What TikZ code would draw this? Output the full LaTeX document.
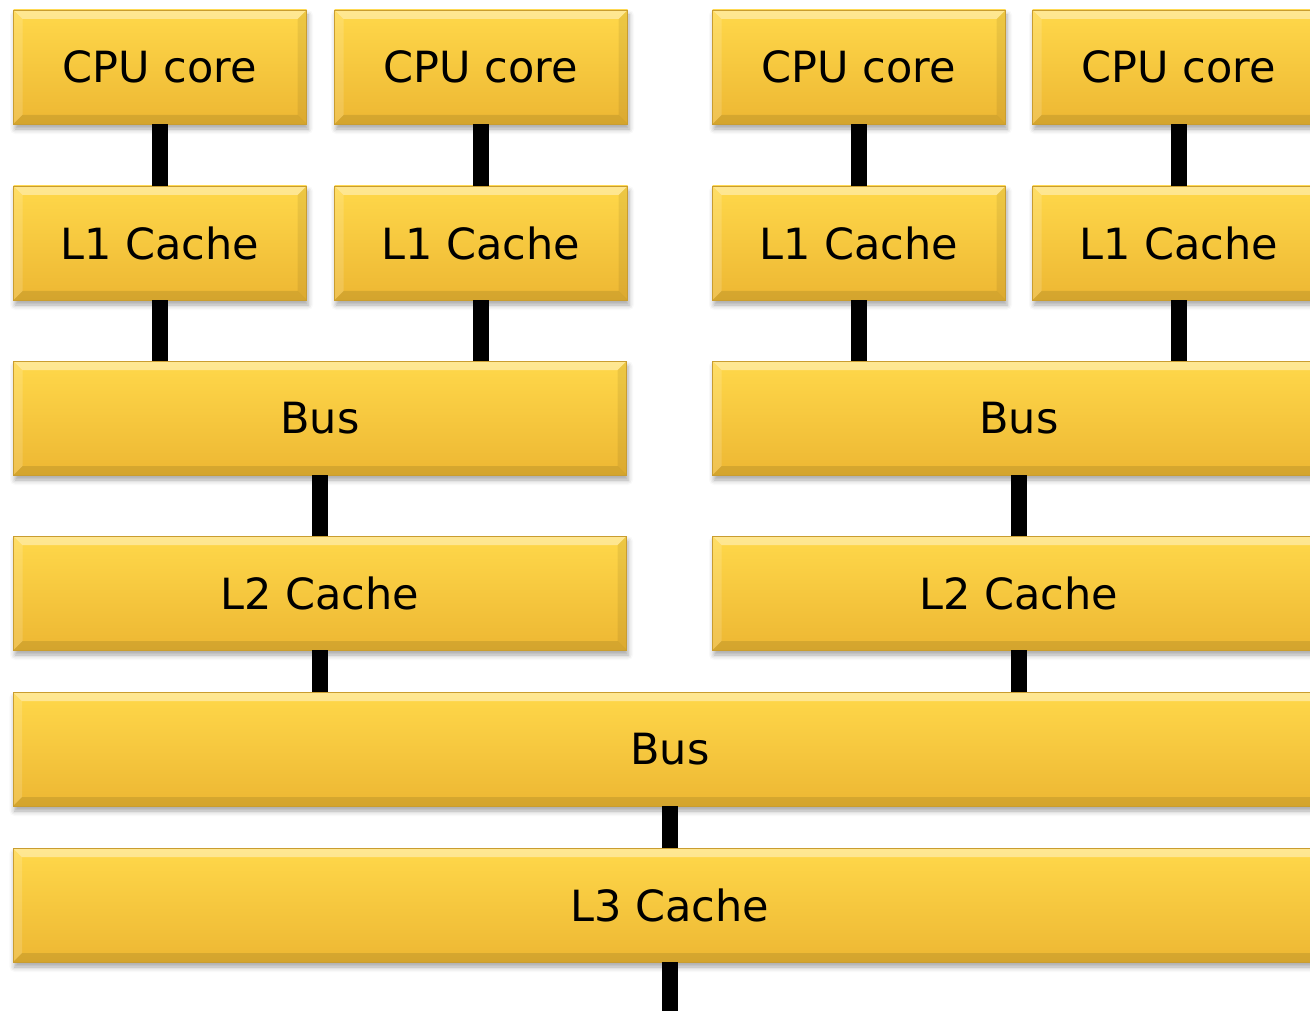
\documentclass[tikz,border=0pt]{standalone}
\usepackage{fontspec}
\setmainfont{DejaVu Sans}
\usetikzlibrary{shadows.blur}
\definecolor{goldtop}{HTML}{FFD84A}
\definecolor{goldbot}{HTML}{EDB733}
\definecolor{goldedge}{HTML}{C99D30}
\tikzset{
  unitbox/.style={draw=goldedge, line width=0.8pt, top color=goldtop, bottom color=goldbot,
    minimum height=114pt, inner sep=0pt, text=black,
    font=\fontsize{43}{50}\selectfont,
    blur shadow={shadow xshift=1.5pt, shadow yshift=-5pt, shadow blur radius=5pt, shadow opacity=35},
    path picture={
      \fill[white, opacity=0.40] (path picture bounding box.north west) -- (path picture bounding box.north east)
        -- ([shift={(-9pt,-9pt)}]path picture bounding box.north east) -- ([shift={(9pt,-9pt)}]path picture bounding box.north west) -- cycle;
      \fill[white, opacity=0.15] (path picture bounding box.north west) -- (path picture bounding box.south west)
        -- ([shift={(9pt,9pt)}]path picture bounding box.south west) -- ([shift={(9pt,-9pt)}]path picture bounding box.north west) -- cycle;
      \fill[black, opacity=0.07] (path picture bounding box.north east) -- (path picture bounding box.south east)
        -- ([shift={(-9pt,9pt)}]path picture bounding box.south east) -- ([shift={(-9pt,-9pt)}]path picture bounding box.north east) -- cycle;
      \fill[black, opacity=0.10] (path picture bounding box.south west) -- (path picture bounding box.south east)
        -- ([shift={(-9pt,9pt)}]path picture bounding box.south east) -- ([shift={(9pt,9pt)}]path picture bounding box.south west) -- cycle;
    }},
  small/.style={unitbox, minimum width=293pt},
  half/.style={unitbox, minimum width=613pt},
  full/.style={unitbox, minimum width=1314pt},
  link/.style={line width=16pt, black},
}
\begin{document}
\begin{tikzpicture}[x=1pt, y=-1pt]
\useasboundingbox (0,0) rectangle (1310,1011);
\clip (0,0) rectangle (1310,1011);
% CPU cores
\node[small] (c1) at (160,67) {CPU core};
\node[small] (c2) at (481,67) {CPU core};
\node[small] (c3) at (859,67) {CPU core};
\node[small] (c4) at (1179,67) {CPU core};
% L1
\node[small] (l1a) at (160,243) {L1 Cache};
\node[small] (l1b) at (481,243) {L1 Cache};
\node[small] (l1c) at (859,243) {L1 Cache};
\node[small] (l1d) at (1179,243) {L1 Cache};
% buses
\node[half] (busa) at (320,418) {Bus};
\node[half] (busb) at (1019,418) {Bus};
% L2
\node[half] (l2a) at (320,593) {L2 Cache};
\node[half] (l2b) at (1019,593) {L2 Cache};
% big bus and L3
\node[full] (bus) at (670,749) {Bus};
\node[full] (l3) at (670,905) {L3 Cache};
\coordinate (out) at (670,1020);
% connectors
\draw[link] (c1.south) -- (l1a.north);
\draw[link] (c2.south) -- (l1b.north);
\draw[link] (c3.south) -- (l1c.north);
\draw[link] (c4.south) -- (l1d.north);
\draw[link] (l1a.south) -- (l1a.south |- busa.north);
\draw[link] (l1b.south) -- (l1b.south |- busa.north);
\draw[link] (l1c.south) -- (l1c.south |- busb.north);
\draw[link] (l1d.south) -- (l1d.south |- busb.north);
\draw[link] (busa.south) -- (l2a.north);
\draw[link] (busb.south) -- (l2b.north);
\draw[link] (l2a.south) -- (l2a.south |- bus.north);
\draw[link] (l2b.south) -- (l2b.south |- bus.north);
\draw[link] (bus.south) -- (l3.north);
\draw[link] (l3.south) -- (out);
\end{tikzpicture}
\end{document}
